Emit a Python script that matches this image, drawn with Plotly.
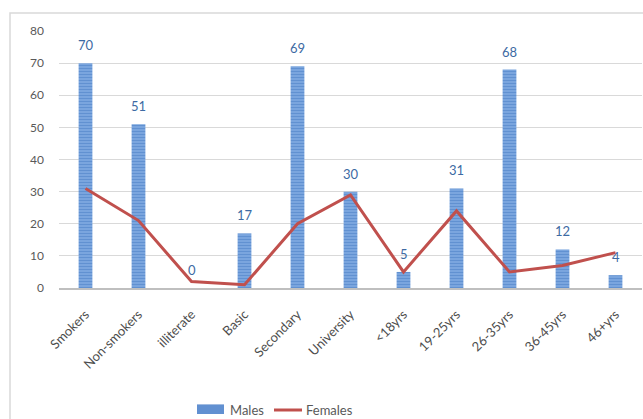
import plotly.graph_objects as go

categories = ["Smokers", "Non-smokers", "illiterate", "Basic", "Secondary", "University",
              "<18yrs", "19-25yrs", "26-35yrs", "36-45yrs", "46+yrs"]
males = [70, 51, 0, 17, 69, 30, 5, 31, 68, 12, 4]
females = [31, 21, 2, 1, 20, 29, 5, 24, 5, 7, 11]
y_ticks = [0, 10, 20, 30, 40, 50, 60, 70, 80]

FONT = "Lato"
BAR_PATTERN = dict(shape="-", fgcolor="#4479c2", bgcolor="#7fa8e0", size=3, solidity=0.45)

fig = go.Figure()
fig.add_trace(go.Bar(
    x=categories, y=males, name="Males", width=0.26,
    marker=dict(color="#6f9bd6", line=dict(width=0), pattern=BAR_PATTERN),
))
fig.add_trace(go.Scatter(
    x=categories, y=females, name="Females", mode="lines",
    line=dict(color="#c0504d", width=3),
))

for c, v in zip(categories, males):
    fig.add_annotation(x=c, y=v, text=str(v), showarrow=False, yanchor="bottom", yshift=8,
                       font=dict(family=FONT, size=13, color="#3d6aa3"))

W, H = 643, 419
L, R, T, B = 59, 1, 31, 131
pw, ph = W - L - R, H - T - B

def px(x):
    return (x - L) / pw

def py(y):
    return (H - B - y) / ph

# chart frame border
fig.add_shape(type="rect", xref="paper", yref="paper",
              x0=px(10), x1=px(660), y0=py(13), y1=py(440),
              line=dict(color="#d9d9d9", width=1.5), fillcolor="rgba(0,0,0,0)", layer="below")

# legend drawn manually (wide swatches as in the reference)
fig.add_shape(type="rect", xref="paper", yref="paper",
              x0=px(197), x1=px(224), y0=py(414), y1=py(405),
              line=dict(width=0), fillcolor="#7fa8e0")
for yy in range(405, 415, 2):
    fig.add_shape(type="line", xref="paper", yref="paper",
                  x0=px(197), x1=px(224), y0=py(yy), y1=py(yy),
                  line=dict(color="#4479c2", width=1))
fig.add_annotation(xref="paper", yref="paper", x=px(228), y=py(410), text="Males",
                   showarrow=False, xanchor="left", yanchor="middle",
                   font=dict(family=FONT, size=13, color="#595959"))
fig.add_shape(type="line", xref="paper", yref="paper",
              x0=px(274), x1=px(302), y0=py(410), y1=py(410),
              line=dict(color="#c0504d", width=3))
fig.add_annotation(xref="paper", yref="paper", x=px(304), y=py(410), text="Females",
                   showarrow=False, xanchor="left", yanchor="middle",
                   font=dict(family=FONT, size=13, color="#595959"))

fig.update_layout(
    width=W, height=H,
    margin=dict(l=L, r=R, t=T, b=B, autoexpand=False),
    paper_bgcolor="white", plot_bgcolor="white",
    font=dict(family=FONT, size=12, color="#595959"),
    showlegend=False,
    xaxis=dict(tickangle=-45, showgrid=False, showline=True, linecolor="#bfbfbf", linewidth=1.5,
               tickfont=dict(family=FONT, size=13, color="#4d4d4d"), ticks="",
               ticklabelstandoff=12),
    yaxis=dict(range=[0, 80], tickvals=y_ticks, showgrid=True, gridcolor="#d9d9d9", gridwidth=1,
               zeroline=False, showline=False, ticklabelstandoff=14,
               tickfont=dict(family=FONT, size=12, color="#595959")),
)

fig.write_html("out.html")
